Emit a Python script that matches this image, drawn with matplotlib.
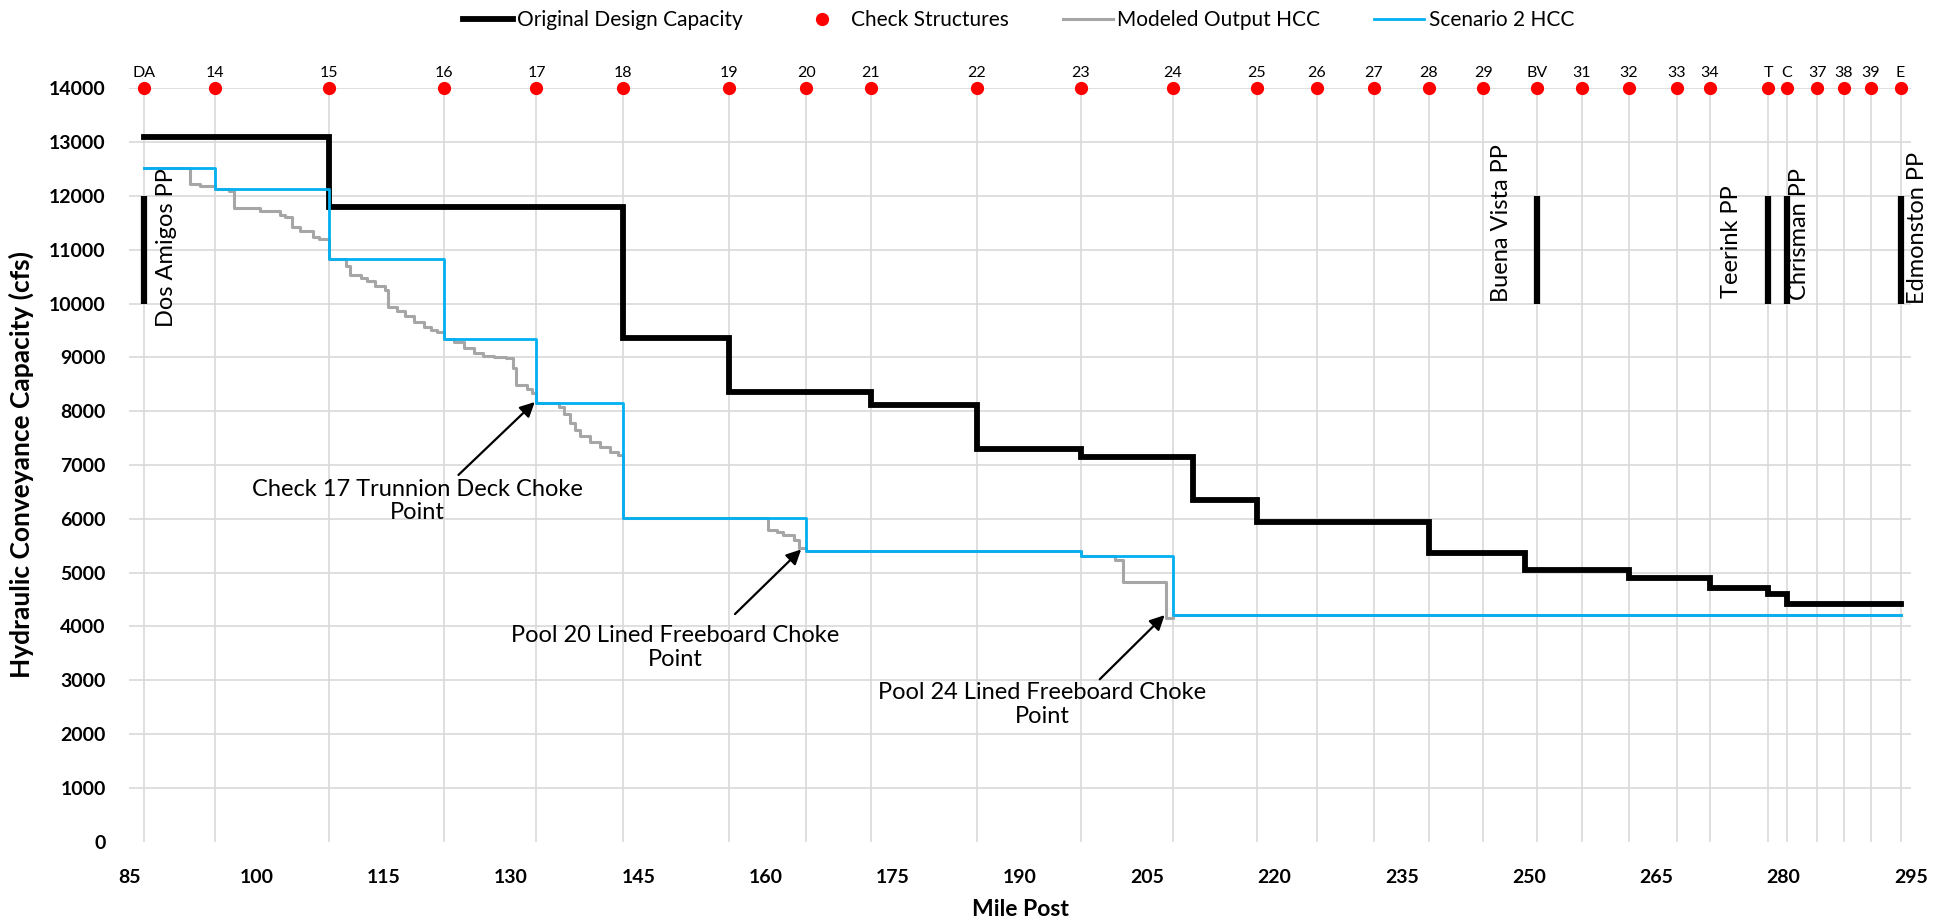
import numpy as np
import matplotlib
matplotlib.use("Agg")
import matplotlib.pyplot as plt

plt.rcParams['font.family'] = ['Lato', 'DejaVu Sans']

# check structures along the aqueduct (mile post)
check_labels = ["DA", "14", "15", "16", "17", "18", "19", "20", "21", "22", "23", "24",
                "25", "26", "27", "28", "29", "BV", "31", "32", "33", "34", "T", "C",
                "37", "38", "39", "E"]
check_miles = [86.73, 95.1, 108.5, 122.1, 133.0, 143.2, 155.7, 164.8, 172.4, 184.9, 197.15, 208.0,
               217.9, 225.0, 231.7, 238.2, 244.6, 251.0, 256.2, 261.8, 267.4, 271.3, 278.2, 280.4,
               284.0, 287.1, 290.3, 293.8]
check_level = 14000

# original design capacity (step, value holds until next mile)
design_miles = [86.73, 108.5, 143.2, 155.7, 172.4, 184.9, 197.15, 210.4, 217.9, 238.2,
                249.5, 261.8, 271.3, 278.2, 280.4, 293.8]
design_cfs = [13100, 11800, 9360, 8360, 8110, 7300, 7150, 6350, 5950, 5360,
              5050, 4900, 4710, 4600, 4410, 4410]

# modeled output HCC
model_miles = [86.73, 92.1, 93.3, 95.1, 96.8, 97.4, 100.4, 102.8, 103.4, 104.2, 105.1, 106.7,
               107.4, 108.5, 110.6, 111.0, 112.3, 113.0, 114.0, 115.1, 115.5, 116.6, 117.5,
               118.6, 119.7, 120.6, 121.3, 122.1, 123.3, 124.4, 125.6, 126.7, 128.0, 129.4,
               130.2, 130.6, 131.9, 132.5, 133.0, 135.6, 136.3, 137.0, 137.6, 138.1, 139.3,
               140.5, 141.7, 142.6, 143.2, 160.3, 161.3, 162.1, 163.3, 163.9, 164.8, 197.15,
               201.2, 202.1, 207.2, 208.0, 293.8]
model_cfs = [12510, 12230, 12190, 12130, 12090, 11770, 11720, 11650, 11610, 11430, 11340, 11240,
             11200, 10830, 10700, 10530, 10470, 10410, 10330, 10250, 9940, 9870, 9760,
             9650, 9570, 9510, 9480, 9350, 9290, 9170, 9090, 9030, 9000, 8980,
             8800, 8490, 8420, 8330, 8150, 8080, 7940, 7780, 7650, 7530, 7430,
             7340, 7250, 7190, 6010, 5800, 5760, 5700, 5610, 5450, 5410, 5300,
             5230, 4820, 4150, 4210, 4210]

# scenario 2 HCC
scen_miles = [86.73, 95.1, 108.5, 122.1, 133.0, 143.2, 164.8, 197.15, 208.0, 293.8]
scen_cfs = [12510, 12130, 10830, 9350, 8150, 6010, 5410, 5300, 4210, 4210]

# pumping plants
pp_names = ["Dos Amigos PP", "Buena Vista PP", "Teerink PP", "Chrisman PP", "Edmonston PP"]
pp_miles = [86.73, 251.0, 278.2, 280.4, 293.8]
pp_label_miles = [89.4, 246.8, 273.9, 281.85, 295.8]
pp_label_bottom = [9570, 10030, 10100, 10060, 10000]

# choke point callouts: text, text position, arrow tip
notes = ["Check 17 Trunnion Deck Choke\nPoint",
         "Pool 20 Lined Freeboard Choke\nPoint",
         "Pool 24 Lined Freeboard Choke\nPoint"]
note_text_xy = [(119.0, 6330), (149.4, 3610), (192.6, 2550)]
note_tip_xy = [(132.8, 8170), (164.2, 5430), (207.05, 4210)]
note_tail_xy = [(123.8, 6815), (156.4, 4230), (199.4, 3018)]

fig = plt.figure(figsize=(19.51, 9.24), dpi=100)
ax = fig.add_axes([0.06627, 0.08907, 0.91307, 0.81537])

grid_c = "#d9d9d9"
for y in range(1000, 14001, 1000):
    ax.axhline(y, color=grid_c, lw=1.2, zorder=0)
ax.vlines(check_miles, 0, check_level, color=grid_c, lw=1.2, zorder=0)

# pumping plant bars
ax.vlines(pp_miles, 10000, 12000, color="black", lw=4.5, zorder=2)
for name, xm, yb in zip(pp_names, pp_label_miles, pp_label_bottom):
    ax.text(xm, yb, name, rotation=90, ha="center", va="bottom", fontsize=17,
            clip_on=False, zorder=3)

ax.plot(design_miles, design_cfs, drawstyle="steps-post", color="black", lw=4.2,
        solid_joinstyle="miter", label="Original Design Capacity", zorder=3)
ax.plot(check_miles, [check_level] * len(check_miles), "o", color="#ff0000", ms=8.5,
        label="Check Structures", clip_on=False, zorder=5)
ax.plot(model_miles, model_cfs, drawstyle="steps-post", color="#a6a6a6", lw=2.2,
        label="Modeled Output HCC", zorder=4)
ax.plot(scen_miles, scen_cfs, drawstyle="steps-post", color="#00b0f0", lw=2,
        label="Scenario 2 HCC", zorder=4)

for lbl, xm in zip(check_labels, check_miles):
    ax.annotate(lbl, (xm, check_level), xytext=(0, 6), textcoords="offset points",
                ha="center", va="bottom", fontsize=11.5, annotation_clip=False)

for txt, txy, tip, tail in zip(notes, note_text_xy, note_tip_xy, note_tail_xy):
    ax.text(txy[0], txy[1], txt, ha="center", va="center", fontsize=17,
            linespacing=1.15, zorder=6)
    ax.annotate("", xy=tip, xytext=tail,
                arrowprops=dict(arrowstyle="-|>", color="black", lw=1.6,
                                mutation_scale=22, shrinkA=0, shrinkB=0), zorder=6)

ax.set_xlim(85, 295)
ax.set_ylim(0, 14000)
ax.set_xticks(np.arange(85, 296, 15))
ax.set_yticks(np.arange(0, 14001, 1000))
ax.tick_params(axis="both", length=0, labelsize=14)
ax.tick_params(axis="y", pad=17)
ax.tick_params(axis="x", pad=20)
for t in ax.get_xticklabels() + ax.get_yticklabels():
    t.set_fontweight("bold")
for s in ax.spines.values():
    s.set_visible(False)

ax.set_xlabel("Mile Post", fontsize=16.5, fontweight="bold")
ax.set_ylabel("Hydraulic Conveyance Capacity (cfs)", fontsize=19, fontweight="bold")
ax.xaxis.set_label_coords(0.5, -0.076)
ax.yaxis.set_label_coords(-0.0535, 0.5)

fig.legend(loc="center", bbox_to_anchor=(0.522, 0.978), ncol=4, frameon=False,
           fontsize=15, handlelength=2.4, handletextpad=0.2, columnspacing=2.6,
           markerscale=1.0)

fig.savefig("out.png", dpi=100)
